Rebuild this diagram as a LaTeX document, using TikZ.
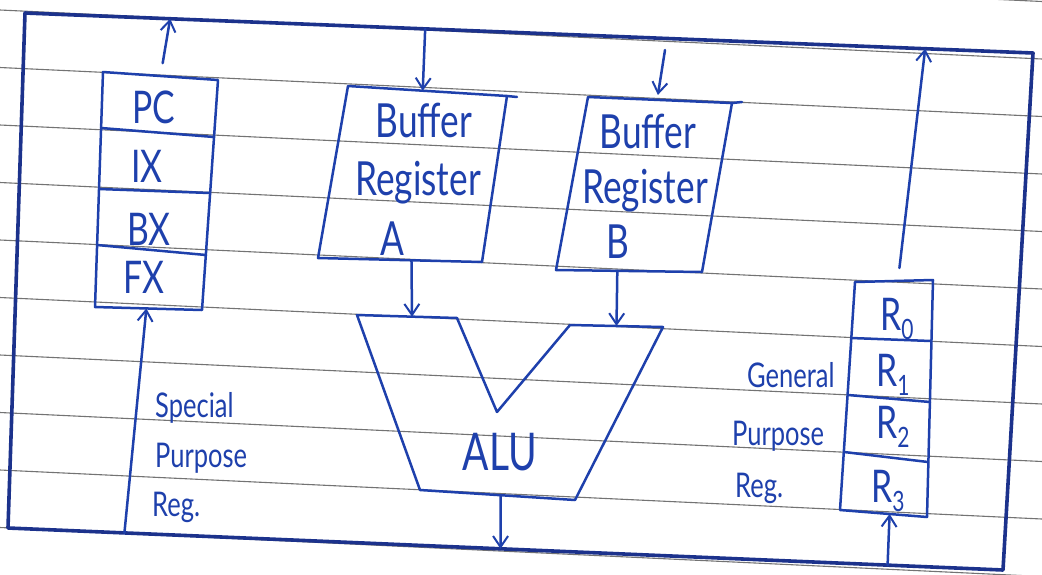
\documentclass[tikz,border=0pt]{standalone}
\usepackage{fontspec}
\usepackage{graphicx}
\usetikzlibrary{arrows.meta,calc}
\newfontfamily\hand[FakeStretch=0.75]{Lato}
\definecolor{ink}{RGB}{30,64,172}
\definecolor{inkdark}{RGB}{28,50,140}
\definecolor{rule}{RGB}{115,115,115}
\newcommand\rsub[1]{\raisebox{-0.22em}{\fontsize{28}{28}\selectfont #1}}
\begin{document}
\begin{tikzpicture}[x=1pt,y=-1pt,
  ink/.style={draw=ink, line width=2.5pt, line join=round, line cap=round},
  bus/.style={draw=inkdark, line width=3.6pt, line join=round, line cap=round},
  flow/.style={ink, -{Straight Barb[length=11pt,width=15pt,line width=2pt]}},
  lbl/.style={text=ink, inner sep=0pt, anchor=base, font=\hand\fontsize{45}{45}\selectfont},
  buf/.style={lbl, font=\hand\fontsize{47}{47}\selectfont},
  side/.style={text=ink, inner sep=0pt, anchor=base west, font=\hand\fontsize{34}{34}\selectfont},
]
\useasboundingbox (0,0) rectangle (1042,574);
\clip (0,0) rectangle (1042,574);
\fill[white] (0,0) rectangle (1042,574);
% ruled paper
\foreach \k in {0,...,10} {
  \draw[rule, line width=1.1pt] (0,{-47.5+57.5*\k}) -- (1042,{1.5+57.5*\k});
}
% system bus loop
\coordinate (busTL) at (25,13);
\coordinate (busTR) at (1033,53);
\coordinate (busBR) at (1003,570);
\coordinate (busBL) at (8,528);
\draw[bus] (busTL) -- (busTR) -- (busBR) -- (busBL) -- cycle;

% special purpose registers
\coordinate (sTL) at (103,72);
\coordinate (sTR) at (218,80);
\coordinate (sBR) at (202,310);
\coordinate (sBL) at (95,307);
\draw[ink] (sTL) -- (sTR) -- (sBR) -- (sBL) -- cycle;
\draw[ink] (101,128) -- (214,137);
\draw[ink] (99,189) -- (210,193);
\draw[ink] (97,245) -- (206,255);
\node[lbl] (pc) at (154,123) {PC};
\node[lbl] (ix) at (147,182) {IX};
\node[lbl] (bx) at (149,245) {BX};
\node[lbl] (fx) at (144,293) {FX};
\node[side] (sp1) at (155,417) {Special};
\node[side] (sp2) at (155,467) {Purpose};
\node[side] (sp3) at (152,516) {Reg.};

% buffer register A
\coordinate (aTL) at (348,86);
\coordinate (aTR) at (507,96);
\coordinate (aBR) at (482,262);
\coordinate (aBL) at (318,258);
\draw[ink] (aTL) -- (aTR) -- (aBR) -- (aBL) -- cycle;
\draw[ink] (aTR) -- (517,97);
\node[buf] (ba1) at (424,137) {Buffer};
\node[buf] (ba2) at (418,195) {Register};
\node[buf] (ba3) at (392,255) {A};

% buffer register B
\coordinate (bTL) at (588,97);
\coordinate (bTR) at (732,103);
\coordinate (bBR) at (702,272);
\coordinate (bBL) at (556,270);
\draw[ink] (bTL) -- (bTR) -- (bBR) -- (bBL) -- cycle;
\draw[ink] (bTR) -- (742,102);
\node[buf] (bb1) at (648,148) {Buffer};
\node[buf] (bb2) at (645,203) {Register};
\node[buf] (bb3) at (618,258) {B};

% ALU
\coordinate (uTL) at (357,315);
\coordinate (uTi) at (457,318);
\coordinate (uV) at (497,412);
\coordinate (uTj) at (570,325);
\coordinate (uTR) at (663,327);
\coordinate (uBR) at (575,500);
\coordinate (uBL) at (420,490);
\draw[ink] (uTL) -- (uTi) -- (uV) -- (uTj) -- (uTR) -- (uBR) -- (uBL) -- cycle;
\node[lbl, font=\hand\fontsize{52}{52}\selectfont] (alu) at (500,470) {ALU};

% general purpose registers
\coordinate (gTL) at (855,282);
\coordinate (gTR) at (933,280);
\coordinate (gBR) at (927,517);
\coordinate (gBL) at (840,510);
\draw[ink] (gTL) -- (gTR) -- (gBR) -- (gBL) -- cycle;
\draw[ink] (851,338) -- (931,341);
\draw[ink] (848,395) -- (930,402);
\draw[ink] (844,452) -- (928,462);
\node[lbl] (r0) at (897,330) {R\rsub{0}};
\node[lbl] (r1) at (893,386) {R\rsub{1}};
\node[lbl] (r2) at (893,438) {R\rsub{2}};
\node[lbl] (r3) at (888,502) {R\rsub{3}};
\node[side] (gp1) at (747,387) {General};
\node[side] (gp2) at (732,445) {Purpose};
\node[side] (gp3) at (735,497) {Reg.};

% connection points
\coordinate (busPC) at ($(busTL)!0.144!(busTR)$);
\coordinate (pcTop) at ($(sTL)!0.5!(sTR)$);
\coordinate (busSP) at ($(busBL)!0.117!(busBR)$);
\coordinate (sBot) at ($(sBL)!0.48!(sBR)$);
\coordinate (busA) at ($(busTL)!0.397!(busTR)$);
\coordinate (aTop) at ($(aTL)!0.47!(aTR)$);
\coordinate (aBot) at ($(aBL)!0.57!(aBR)$);
\coordinate (uInA) at ($(uTL)!0.55!(uTi)$);
\coordinate (bIn) at (665,50);
\coordinate (bTop) at ($(bTL)!0.48!(bTR)$);
\coordinate (bBot) at ($(bBL)!0.42!(bBR)$);
\coordinate (uInB) at ($(uTj)!0.5!(uTR)$);
\coordinate (uBot) at ($(uBL)!0.52!(uBR)$);
\coordinate (busALU) at ($(busBL)!0.495!(busBR)$);
\coordinate (gTop) at ($(gTL)!0.55!(gTR)$);
\coordinate (busG) at ($(busTL)!0.893!(busTR)$);
\coordinate (busG2) at ($(busBL)!0.884!(busBR)$);
\coordinate (gBot) at ($(gBL)!0.57!(gBR)$);

% data flow
\draw[flow, shorten <=13pt] (pcTop) -- (busPC);
\draw[flow] (busSP) -- (sBot);
\draw[flow] (busA) -- (aTop);
\draw[flow] (aBot) -- (uInA);
\draw[flow, shorten >=5pt] (bIn) -- (bTop);
\draw[flow] (bBot) -- (uInB);
\draw[flow] (uBot) -- (busALU);
\draw[flow, shorten <=13pt] (gTop) -- (busG);
\draw[flow] (busG2) -- (gBot);
\end{tikzpicture}
\end{document}
